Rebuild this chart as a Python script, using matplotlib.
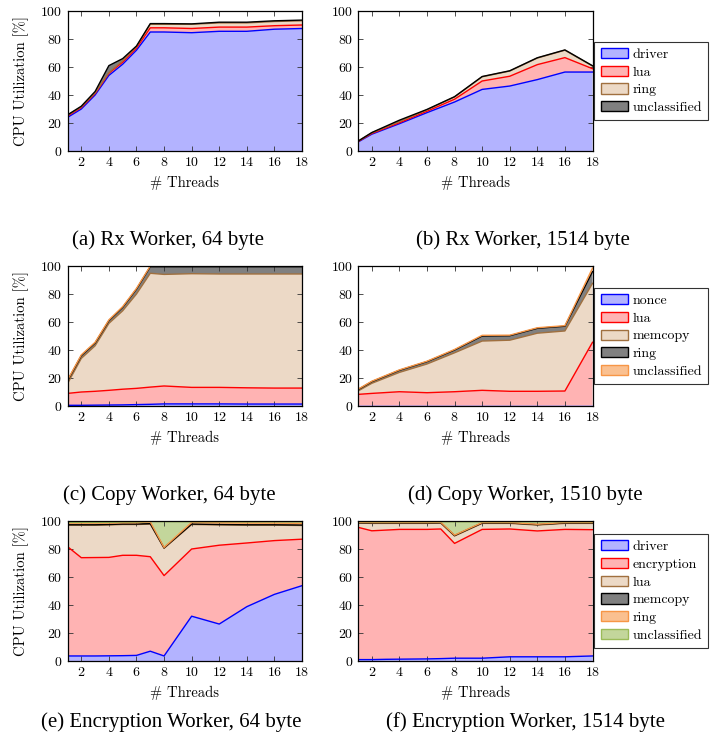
import numpy as np
import matplotlib
matplotlib.use("Agg")
import matplotlib.pyplot as plt
from matplotlib.patches import Patch

plt.rcParams['font.family'] = ['cmr10', 'DejaVu Serif']
plt.rcParams['axes.formatter.use_mathtext'] = True

# thread counts
x_full = [1, 2, 3, 4, 5, 6, 7, 8, 10, 12, 14, 16, 18]
x_even = [1, 2, 4, 6, 8, 10, 12, 14, 16, 18]

# (a) Rx Worker, 64 byte  -- stacked layer values [%]
rx64_driver = [24, 30, 40, 54, 62, 72, 85, 85, 84.5, 85.5, 85.5, 87, 87.5]
rx64_lua = [1, 1, 1, 1.5, 1.5, 1.5, 3, 3, 3, 3, 3, 2.5, 2.5]
rx64_ring = [0.5, 0.5, 0.5, 0.5, 1, 1, 2.5, 2.5, 3, 3, 3, 3, 3]
rx64_uncl = [0.3, 0.5, 1, 5, 1.5, 0.5, 0.5, 0.5, 0.3, 0.5, 0.5, 0.5, 0.5]

# (b) Rx Worker, 1514 byte
rx1514_driver = [6.4, 12, 19.5, 27.4, 35, 44, 46.4, 51, 56.4, 56.4]
rx1514_lua = [0.3, 0.5, 0.7, 1, 2, 6, 7, 10.7, 10.3, 2.4]
rx1514_ring = [0.3, 0.5, 0.8, 1, 1.6, 3, 3.7, 4.7, 5.3, 1.9]
rx1514_uncl = [0, 0.2, 1, 0.3, 0.2, 0.2, 0.2, 0.2, 0.2, 0.2]

# (c) Copy Worker, 64 byte
cp64_nonce = [0.5, 0.5, 0.6, 0.7, 0.8, 1, 1.2, 1.5, 1.5, 1.5, 1.4, 1.4, 1.4]
cp64_lua = [8.5, 9.5, 9.9, 10.5, 11.2, 11.6, 12.3, 12.8, 11.8, 11.8, 11.6, 11.4, 11.4]
cp64_memcopy = [7, 24, 32.5, 47.8, 56, 67.4, 81.3, 79.7, 81.2, 81, 81.3, 81.5, 81.5]
cp64_ring = [2, 2, 2, 2, 2.5, 3.5, 4.7, 5.5, 5, 5.2, 5.2, 5.2, 5.2]
cp64_uncl = [0.5] * 13

# (d) Copy Worker, 1510 byte
cp1510_nonce = [0.3] * 10
cp1510_lua = [8, 8.7, 9.9, 9.2, 9.9, 10.9, 10.2, 10.2, 10.4, 45.2]
cp1510_memcopy = [2.4, 7.2, 13.8, 20.5, 27.8, 35.2, 36.5, 41.5, 42.9, 42.1]
cp1510_ring = [1, 1.2, 1.5, 1.7, 2, 3.6, 3.2, 3.5, 3.4, 8.4]
cp1510_uncl = [0.3, 0.3, 0.3, 0.3, 0.4, 0.5, 0.4, 0.4, 0.4, 2.5]

# (e) Encryption Worker, 64 byte
enc64_driver = [3.6, 3.6, 3.6, 3.7, 3.8, 4, 7, 3.6, 32, 26.4, 38.8, 47.6, 53.8]
enc64_encryption = [78.1, 70.2, 70.3, 70.3, 71.7, 71.5, 67.5, 57.4, 48, 56.3, 45.5, 38.4, 33.2]
enc64_lua = [15.3, 23.2, 23.1, 23.2, 22, 22, 23.3, 19.5, 17.5, 14.5, 12.7, 11, 9.8]
enc64_memcopy = [0.3] * 13
enc64_ring = [1.2, 1.2, 1.2, 1.0, 1.0, 1.0, 1.3, 0.3, 1.2, 1.3, 1.3, 1.2, 1.2]
enc64_uncl = [0.5, 0.5, 0.5, 0.5, 0.5, 0.5, 0.3, 18.5, 0.5, 0.7, 0.8, 1, 1.2]

# (f) Encryption Worker, 1514 byte
enc1514_driver = [1, 1, 1.2, 1.3, 1.4, 1.5, 1.7, 2, 2, 3, 3, 3, 3.6]
enc1514_encryption = [94.5, 92, 92.3, 92.7, 92.6, 92.5, 92.6, 82, 92, 91.3, 89.9, 91, 90.2]
enc1514_lua = [3, 5.3, 4.8, 4.3, 4.3, 4.3, 4.2, 5.3, 4.3, 4, 4.2, 4.3, 4.5]
enc1514_memcopy = [0.3] * 13
enc1514_ring = [0.3] * 13
enc1514_uncl = [0.5, 0.6, 0.6, 0.6, 0.6, 0.6, 0.4, 9.6, 0.6, 0.6, 1.8, 0.6, 0.6]

# (fill, edge) per pgfplots-style colour
BLUE = ('#b3b3ff', '#0000ff')
RED = ('#ffb3b3', '#ff0000')
BROWN = ('#ecd9c6', '#a0703f')
BLACK = ('#808080', '#000000')
ORANGE = ('#fac090', '#f79646')
GREEN = ('#c3d69b', '#9bbb59')


def stacked(ax, x, layers, colors):
    bottom = np.zeros(len(x))
    tops = []
    for vals, (fc, ec) in zip(layers, colors):
        top = bottom + np.array(vals)
        ax.fill_between(x, bottom, top, facecolor=fc, lw=0, zorder=1)
        tops.append((top, ec))
        bottom = top
    for top, ec in tops:
        ax.plot(x, top, color=ec, lw=1.0, zorder=2)

    ax.set_xlim(1, 18)
    ax.set_ylim(0, 100)
    ax.set_xticks(range(2, 19, 2))
    ax.set_yticks(range(0, 101, 20))
    ax.tick_params(direction='in', top=True, right=True, length=3.5,
                   width=0.6, labelsize=10, colors='#333333', labelcolor='black')
    for s in ax.spines.values():
        s.set_linewidth(0.9)
    ax.set_xlabel('# Threads', fontsize=10.5)
    ax.xaxis.set_label_coords(0.5, -0.175)


def legend(ax, names, colors):
    handles = [Patch(facecolor=fc, edgecolor=ec, lw=1.0) for fc, ec in colors]
    leg = ax.legend(handles, names, loc='center left', bbox_to_anchor=(1.008, 0.5),
                    borderaxespad=0, fontsize=10, frameon=True, fancybox=False,
                    handlelength=2.0, handleheight=0.75, handletextpad=0.3,
                    labelspacing=0.35, borderpad=0.45)
    leg.get_frame().set_edgecolor('black')
    leg.get_frame().set_linewidth(0.8)


fig = plt.figure(figsize=(7.2, 7.41), dpi=100)
W, H = 720, 741


def add_ax(left, top):
    return fig.add_axes([left / W, 1 - (top + 140) / H, 234.5 / W, 140 / H])


ax_a = add_ax(67.5, 11)
ax_b = add_ax(358, 11)
ax_c = add_ax(67.5, 266)
ax_d = add_ax(358, 266)
ax_e = add_ax(67.5, 521)
ax_f = add_ax(358, 521)

stacked(ax_a, x_full, [rx64_driver, rx64_lua, rx64_ring, rx64_uncl], [BLUE, RED, BROWN, BLACK])
stacked(ax_b, x_even, [rx1514_driver, rx1514_lua, rx1514_ring, rx1514_uncl], [BLUE, RED, BROWN, BLACK])
legend(ax_b, ['driver', 'lua', 'ring', 'unclassified'], [BLUE, RED, BROWN, BLACK])

copy_colors = [BLUE, RED, BROWN, BLACK, ORANGE]
stacked(ax_c, x_full, [cp64_nonce, cp64_lua, cp64_memcopy, cp64_ring, cp64_uncl], copy_colors)
stacked(ax_d, x_even, [cp1510_nonce, cp1510_lua, cp1510_memcopy, cp1510_ring, cp1510_uncl], copy_colors)
legend(ax_d, ['nonce', 'lua', 'memcopy', 'ring', 'unclassified'], copy_colors)

enc_colors = [BLUE, RED, BROWN, BLACK, ORANGE, GREEN]
stacked(ax_e, x_full, [enc64_driver, enc64_encryption, enc64_lua, enc64_memcopy,
                       enc64_ring, enc64_uncl], enc_colors)
stacked(ax_f, x_full, [enc1514_driver, enc1514_encryption, enc1514_lua, enc1514_memcopy,
                       enc1514_ring, enc1514_uncl], enc_colors)
legend(ax_f, ['driver', 'encryption', 'lua', 'memcopy', 'ring', 'unclassified'], enc_colors)

for ax in (ax_a, ax_c, ax_e):
    ax.set_ylabel('CPU Utilization [%]', fontsize=10.5)
    ax.yaxis.set_label_coords(-0.165, 0.5)

captions = [
    ('(a) Rx Worker, 64 byte', 168, 240),
    ('(b) Rx Worker, 1514 byte', 523, 240),
    ('(c) Copy Worker, 64 byte', 169, 495),
    ('(d) Copy Worker, 1510 byte', 525, 495),
    ('(e) Encryption Worker, 64 byte', 171, 722),
    ('(f) Encryption Worker, 1514 byte', 525, 722),
]
for text, cx, cy in captions:
    fig.text(cx / W, 1 - cy / H, text, ha='center', va='center',
             fontsize=15, family=['Liberation Serif', 'DejaVu Serif'])

fig.savefig('out.png', dpi=100)
